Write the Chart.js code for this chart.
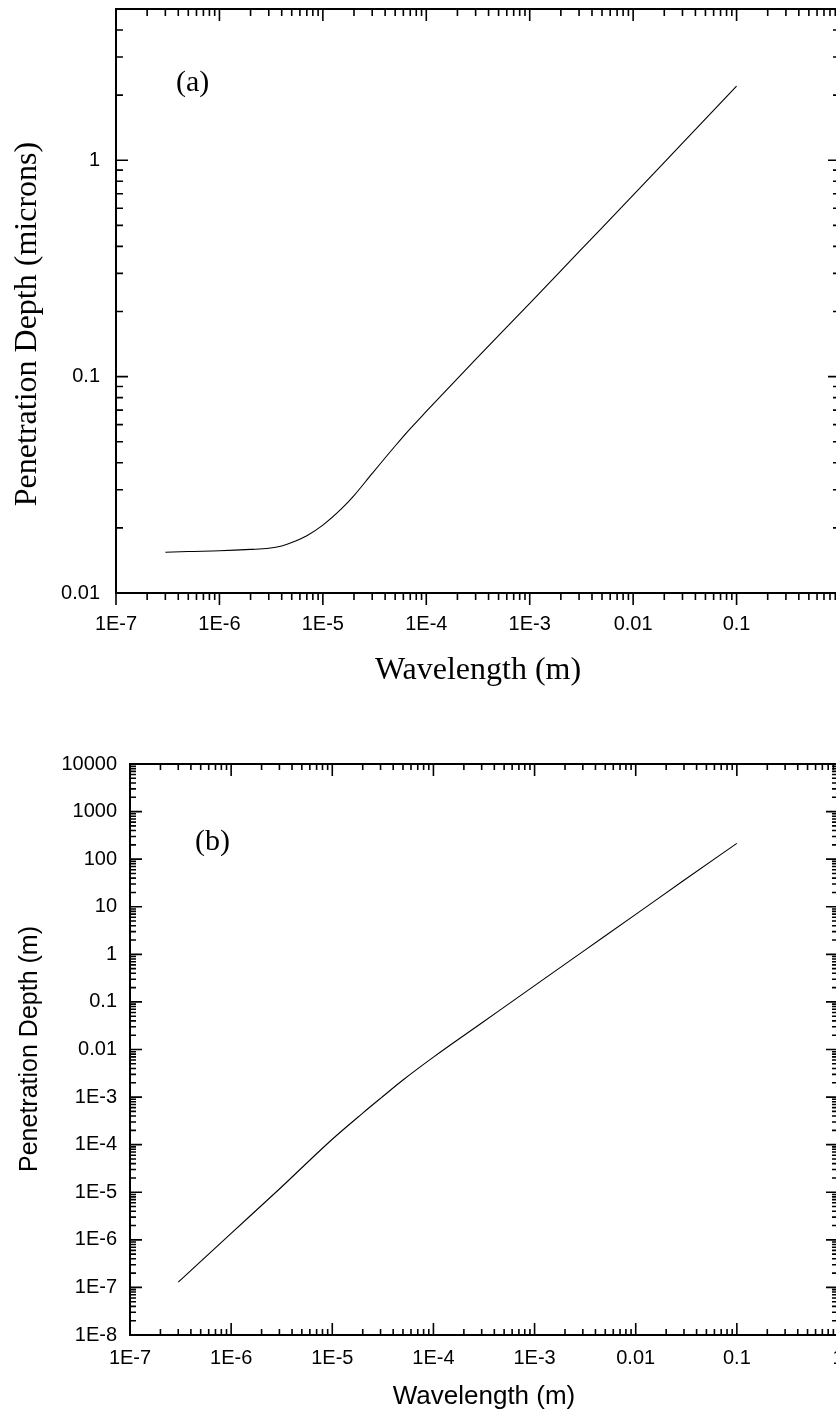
<!DOCTYPE html>
<html>
<head>
<meta charset="utf-8">
<script src="https://cdn.jsdelivr.net/npm/chart.js@4"></script>
<style>
html, body { margin: 0; padding: 0; background: #fff; overflow: hidden; }
#wrap { position: relative; width: 836px; height: 1418px; overflow: hidden; }
#chartA { position: absolute; left: 0; top: 0; }
#chartB { position: absolute; left: 0; top: 700px; }
</style>
</head>
<body>
<div id="wrap">
  <canvas id="chartA" width="850" height="700"></canvas>
  <canvas id="chartB" width="850" height="718"></canvas>
</div>
<script>
// tick values + labels (shared x axis)
const xTickValues = [1e-7, 1e-6, 1e-5, 1e-4, 1e-3, 0.01, 0.1, 1];
const xTickLabels = ['1E-7', '1E-6', '1E-5', '1E-4', '1E-3', '0.01', '0.1', '1'];

const yTickValuesA = [0.01, 0.1, 1];
const yTickLabelsA = ['0.01', '0.1', '1'];

const yTickValuesB = [1e-8, 1e-7, 1e-6, 1e-5, 1e-4, 1e-3, 0.01, 0.1, 1, 10, 100, 1000, 10000];
const yTickLabelsB = ['1E-8', '1E-7', '1E-6', '1E-5', '1E-4', '1E-3', '0.01', '0.1', '1', '10', '100', '1000', '10000'];

// (a) penetration depth in microns
const wavelengthA = [3e-7, 5e-7, 1e-6, 2e-6, 3e-6, 4e-6, 5e-6, 7e-6, 1e-5, 1.5e-5, 2e-5, 3e-5, 5e-5, 7e-5, 1e-4, 3e-4, 1e-3, 3e-3, 0.01, 0.03, 0.1];
const depthMicrons = [0.01542, 0.01555, 0.01567, 0.0159, 0.0161, 0.0165, 0.0171, 0.0184, 0.0206, 0.0244, 0.0282, 0.0357, 0.0478, 0.0575, 0.069, 0.12, 0.218, 0.378, 0.69, 1.2, 2.2];

// (b) penetration depth in metres
const wavelengthB = [3e-7, 1e-6, 3e-6, 1e-5, 2e-5, 3e-5, 5e-5, 1e-4, 3e-4, 1e-3, 3e-3, 0.01, 0.03, 0.1];
const depthMeters = [1.29e-7, 1.37e-6, 1.17e-5, 1.3e-4, 4.6e-4, 9.4e-4, 2.28e-3, 6.9e-3, 0.036, 0.22, 1.14, 6.9, 36, 215];

const SANS = '"Liberation Sans", Arial, Helvetica, sans-serif';
const SERIF = '"Liberation Serif", "Times New Roman", serif';

// draws the box, minor/major ticks and the free text of each panel
const frameTicks = {
    id: 'frameTicks',
    afterDatasetsDraw(chart, args, opts) {
        const ctx = chart.ctx;
        const a = chart.chartArea;
        const xs = chart.scales.x, ys = chart.scales.y;
        ctx.save();
        ctx.strokeStyle = '#000';
        ctx.lineWidth = 2;
        ctx.strokeRect(a.left, a.top, a.right - a.left, a.bottom - a.top);

        ctx.lineWidth = 1.6;
        const logTicks = (s) => {
            const out = [];
            const k0 = Math.floor(Math.log10(s.min)), k1 = Math.ceil(Math.log10(s.max));
            for (let k = k0; k <= k1; k++) {
                for (let m = 1; m <= 9; m++) {
                    const v = m * Math.pow(10, k);
                    if (v >= s.min * 0.999 && v <= s.max * 1.001) out.push({ v, major: m === 1 });
                }
            }
            return out;
        };
        ctx.beginPath();
        logTicks(xs).forEach(t => {
            const px = xs.getPixelForValue(t.v);
            const len = t.major ? opts.major : opts.minor;
            const sb = opts.bottomOut ? 1 : -1;
            ctx.moveTo(px, a.bottom); ctx.lineTo(px, a.bottom + sb * len);
            ctx.moveTo(px, a.top); ctx.lineTo(px, a.top + len);
        });
        logTicks(ys).forEach(t => {
            const py = ys.getPixelForValue(t.v);
            const len = t.major ? opts.major : opts.minor;
            ctx.moveTo(a.left, py); ctx.lineTo(a.left + len, py);
            ctx.moveTo(a.right, py); ctx.lineTo(a.right - len, py);
        });
        ctx.stroke();

        ctx.fillStyle = '#000';
        (opts.texts || []).forEach(t => {
            ctx.save();
            ctx.font = t.font;
            ctx.translate(t.x, t.y);
            if (t.rotate) ctx.rotate(t.rotate);
            ctx.textAlign = t.align || 'center';
            ctx.textBaseline = 'alphabetic';
            ctx.fillText(t.text, 0, 0);
            ctx.restore();
        });
        ctx.restore();
    }
};

function noPad(s) {
    s.paddingTop = 0; s.paddingBottom = 0; s.paddingLeft = 0; s.paddingRight = 0;
}

function makeChart(id, xs, ys, cfg) {
    const ctx = document.getElementById(id).getContext('2d');
    return new Chart(ctx, {
        type: 'scatter',
        data: {
            datasets: [{
                data: xs.map((x, i) => ({ x: x, y: ys[i] })),
                showLine: true,
                borderColor: '#000',
                borderWidth: 1.1,
                pointRadius: 0,
                cubicInterpolationMode: 'monotone'
            }]
        },
        options: {
            responsive: false,
            animation: false,
            layout: { padding: cfg.padding },
            plugins: {
                legend: { display: false },
                tooltip: { enabled: false },
                frameTicks: cfg.frame
            },
            scales: {
                x: {
                    type: 'logarithmic',
                    min: 1e-7, max: 1,
                    grid: { display: false, drawTicks: false },
                    border: { display: false },
                    afterBuildTicks: s => { s.ticks = xTickValues.map(v => ({ value: v })); },
                    afterFit: s => { s.height = cfg.xHeight; noPad(s); },
                    ticks: {
                        autoSkip: false, maxRotation: 0, minRotation: 0,
                        color: '#000', padding: cfg.xPad,
                        font: { family: SANS, size: 20 },
                        callback: (v, i) => xTickLabels[i]
                    }
                },
                y: {
                    type: 'logarithmic',
                    min: cfg.yMin, max: cfg.yMax,
                    grid: { display: false, drawTicks: false },
                    border: { display: false },
                    afterBuildTicks: s => { s.ticks = cfg.yTicks.map(v => ({ value: v })); },
                    afterFit: s => { s.width = cfg.yWidth; noPad(s); },
                    ticks: {
                        autoSkip: false,
                        color: '#000', padding: cfg.yPad,
                        font: { family: SANS, size: 20 },
                        callback: (v, i) => cfg.yLabels[i]
                    }
                }
            }
        },
        plugins: [frameTicks]
    });
}

makeChart('chartA', wavelengthA, depthMicrons, {
    padding: { left: 0, right: 10, top: 9, bottom: 0 },
    xHeight: 107, yWidth: 116, xPad: 19, yPad: 16,
    yMin: 0.01, yMax: 5,
    yTicks: yTickValuesA, yLabels: yTickLabelsA,
    frame: {
        major: 12, minor: 7, bottomOut: true,
        texts: [
            { text: 'Wavelength (m)', x: 478, y: 679, font: '32px ' + SERIF },
            { text: 'Penetration Depth (microns)', x: 36, y: 324, rotate: -Math.PI / 2, font: '32px ' + SERIF },
            { text: '(a)', x: 176, y: 91, align: 'left', font: '30px ' + SERIF }
        ]
    }
});

makeChart('chartB', wavelengthB, depthMeters, {
    padding: { left: 0, right: 12, top: 64, bottom: 0 },
    xHeight: 83, yWidth: 130, xPad: 11, yPad: 13,
    yMin: 1e-8, yMax: 1e4,
    yTicks: yTickValuesB, yLabels: yTickLabelsB,
    frame: {
        major: 12, minor: 6, bottomOut: false,
        texts: [
            { text: 'Wavelength (m)', x: 484, y: 704, font: '26px ' + SANS },
            { text: 'Penetration Depth (m)', x: 37, y: 349, rotate: -Math.PI / 2, font: '25px ' + SANS },
            { text: '(b)', x: 195, y: 150, align: 'left', font: '30px ' + SERIF }
        ]
    }
});
</script>
</body>
</html>
